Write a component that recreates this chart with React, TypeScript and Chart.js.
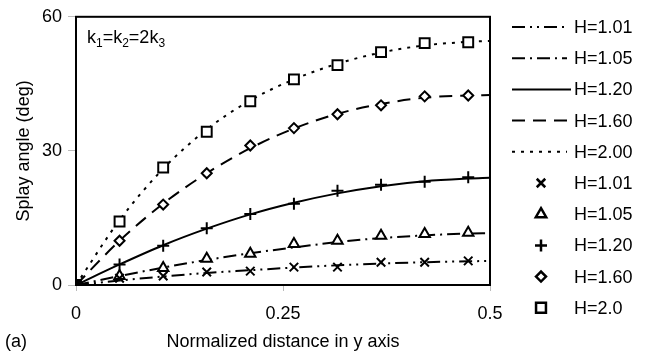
import React, { useEffect, useRef } from 'react';
import { Chart, registerables } from 'chart.js';
import { drawPoint } from 'chart.js/helpers';

Chart.register(...registerables);

// ---------- data ----------
const xMarkers = [0, 0.0526, 0.1053, 0.1579, 0.2105, 0.2632, 0.3158, 0.3684, 0.4211, 0.4737];
const xLine = [0, 0.0526, 0.1053, 0.1579, 0.2105, 0.2632, 0.3158, 0.3684, 0.4211, 0.4737, 0.5];

const lineLabels = ['H=1.01', 'H=1.05', 'H=1.20', 'H=1.60', 'H=2.00'];
const markerLabels = ['H=1.01', 'H=1.05', 'H=1.20', 'H=1.60', 'H=2.0'];

// theory curves
const lineH101 = [0, 1.0, 1.9, 2.7, 3.3, 3.9, 4.4, 4.8, 5.1, 5.3, 5.4];
const lineH105 = [0, 2.0, 3.9, 5.6, 7.1, 8.4, 9.6, 10.5, 11.1, 11.5, 11.6];
const lineH120 = [0, 4.6, 8.9, 12.6, 15.8, 18.4, 20.5, 22.1, 23.2, 23.8, 24.0];
const lineH160 = [0, 9.9, 18.2, 25.0, 30.6, 35.0, 38.3, 40.5, 41.9, 42.4, 42.5];
const lineH200 = [0, 14.5, 26.0, 34.8, 41.3, 46.0, 49.5, 52.0, 53.6, 54.4, 54.6];

// simulated points
const ptsH101 = [0, 1.5, 2.0, 2.9, 3.1, 4.0, 4.0, 5.1, 5.1, 5.4];
const ptsH105 = [0, 2.0, 3.8, 5.9, 7.0, 9.2, 9.9, 11.0, 11.4, 11.7];
const ptsH120 = [0, 4.6, 8.8, 12.7, 15.9, 18.2, 21.1, 22.4, 23.1, 24.1];
const ptsH160 = [0, 9.9, 18.0, 25.0, 31.2, 35.1, 38.2, 40.2, 42.2, 42.4];
const ptsH200 = [0, 14.2, 26.3, 34.3, 41.1, 46.0, 49.2, 52.1, 54.1, 54.3];

const xTicks = [0, 0.25, 0.5];
const yTicks = [0, 30, 60];

const FONT = "'Liberation Sans', Arial, Helvetica, sans-serif";

const lineSeries = [lineH101, lineH105, lineH120, lineH160, lineH200];
const pointSeries = [ptsH101, ptsH105, ptsH120, ptsH160, ptsH200];
const lineDashes = [
  [13, 5, 2, 5, 2, 5],
  [13, 5, 2, 5],
  [],
  [13, 8],
  [3, 6],
];
const pointStyles = ['crossRot', 'triangle', 'cross', 'rectRot', 'rect'];
const pointRadii = [6, 6, 6, 5, 7];

const frameAndLegend = {
  id: 'frameAndLegend',
  afterDatasetsDraw(chart: any) {
    const { ctx, chartArea } = chart;
    ctx.save();
    // plot frame
    ctx.strokeStyle = '#000';
    ctx.lineWidth = 2;
    ctx.setLineDash([]);
    ctx.strokeRect(chartArea.left, chartArea.top, chartArea.right - chartArea.left, chartArea.bottom - chartArea.top);

    // annotation k1=k2=2k3
    ctx.fillStyle = '#000';
    ctx.textBaseline = 'alphabetic';
    ctx.textAlign = 'left';
    let x = 87;
    const yb = 43;
    const parts: [string, boolean][] = [['k', false], ['1', true], ['=k', false], ['2', true], ['=2k', false], ['3', true]];
    for (const [t, sub] of parts) {
      ctx.font = sub ? `12px ${FONT}` : `18px ${FONT}`;
      ctx.fillText(t, x, sub ? yb + 4 : yb);
      x += ctx.measureText(t).width;
    }

    // (a)
    ctx.font = `18px ${FONT}`;
    ctx.textBaseline = 'middle';
    ctx.fillText('(a)', 5, 342);

    // legend
    const rowY = (i: number) => 27 + 31.2 * i;
    const ds = chart.data.datasets;
    for (let i = 0; i < ds.length; i++) {
      const d = ds[i];
      const y = rowY(i);
      ctx.strokeStyle = '#000';
      ctx.fillStyle = '#000';
      if (d.legendKind === 'line') {
        ctx.lineWidth = 2;
        ctx.setLineDash(d.borderDash || []);
        ctx.beginPath();
        ctx.moveTo(512, y);
        ctx.lineTo(d.borderDash && d.borderDash.length ? 567 : 571, y);
        ctx.stroke();
        ctx.setLineDash([]);
      } else {
        ctx.lineWidth = 2.5;
        ctx.fillStyle = '#fff';
        drawPoint(ctx, { pointStyle: d.pointStyle, radius: d.pointRadius, rotation: 0, borderWidth: 2.5 } as any, 541, y);
        ctx.fillStyle = '#000';
      }
      ctx.font = `18px ${FONT}`;
      ctx.textAlign = 'left';
      ctx.textBaseline = 'middle';
      ctx.fillText(d.label, 574, y + 1);
    }
    ctx.restore();
  },
};

export default function App() {
  const ref = useRef<HTMLCanvasElement>(null);

  useEffect(() => {
    document.body.style.margin = '0';
    const canvas = ref.current!;
    const datasets: any[] = [];
    lineSeries.forEach((vals, i) => {
      datasets.push({
        label: lineLabels[i],
        legendKind: 'line',
        data: xLine.map((x, j) => ({ x, y: vals[j] })),
        borderColor: '#000',
        borderWidth: 2,
        borderDash: lineDashes[i],
        pointRadius: 0,
        showLine: true,
        fill: false,
        cubicInterpolationMode: 'monotone',
        order: 2,
      });
    });
    pointSeries.forEach((vals, i) => {
      datasets.push({
        label: markerLabels[i],
        legendKind: 'point',
        data: xMarkers.map((x, j) => ({ x, y: vals[j] })),
        borderColor: '#000',
        backgroundColor: '#fff',
        pointBorderWidth: 2,
        pointStyle: pointStyles[i],
        pointRadius: pointRadii[i],
        showLine: false,
        order: 1,
      });
    });

    const chart = new Chart(canvas, {
      type: 'scatter',
      data: { datasets },
      options: {
        animation: false,
        responsive: false,
        devicePixelRatio: 1,
        layout: { padding: { left: 0, top: 13, right: 165, bottom: 0 } },
        plugins: { legend: { display: false }, tooltip: { enabled: false } },
        scales: {
          x: {
            type: 'linear',
            min: 0,
            max: 0.5,
            afterBuildTicks: (s: any) => { s.ticks = xTicks.map((v) => ({ value: v })); },
            afterFit: (s: any) => { s.height = 75; },
            ticks: {
              color: '#000',
              font: { family: FONT, size: 18 },
              padding: 12,
              maxRotation: 0,
              callback: (v: any) => String(v),
            },
            grid: { drawOnChartArea: false, drawTicks: true, tickLength: 6, color: '#bbb' },
            border: { display: true, color: '#000', width: 2 },
            title: {
              display: true,
              text: 'Normalized distance in y axis',
              color: '#000',
              font: { family: FONT, size: 18 },
              padding: { top: 0, bottom: 7 },
            },
          },
          y: {
            type: 'linear',
            min: 0,
            max: 60,
            afterBuildTicks: (s: any) => { s.ticks = yTicks.map((v) => ({ value: v })); },
            afterFit: (s: any) => { s.width = 76; },
            ticks: {
              color: '#000',
              font: { family: FONT, size: 18 },
              padding: 6,
              callback: (v: any) => String(v),
            },
            grid: { drawOnChartArea: false, drawTicks: true, tickLength: 8, color: '#bbb' },
            border: { display: true, color: '#000', width: 2 },
            title: {
              display: true,
              text: 'Splay angle (deg)',
              color: '#000',
              font: { family: FONT, size: 18 },
              padding: { top: 13, bottom: 0 },
            },
          },
        },
      } as any,
      plugins: [frameAndLegend],
    });
    return () => chart.destroy();
  }, []);

  return <canvas ref={ref} width={655} height={360} style={{ display: 'block' }} />;
}
